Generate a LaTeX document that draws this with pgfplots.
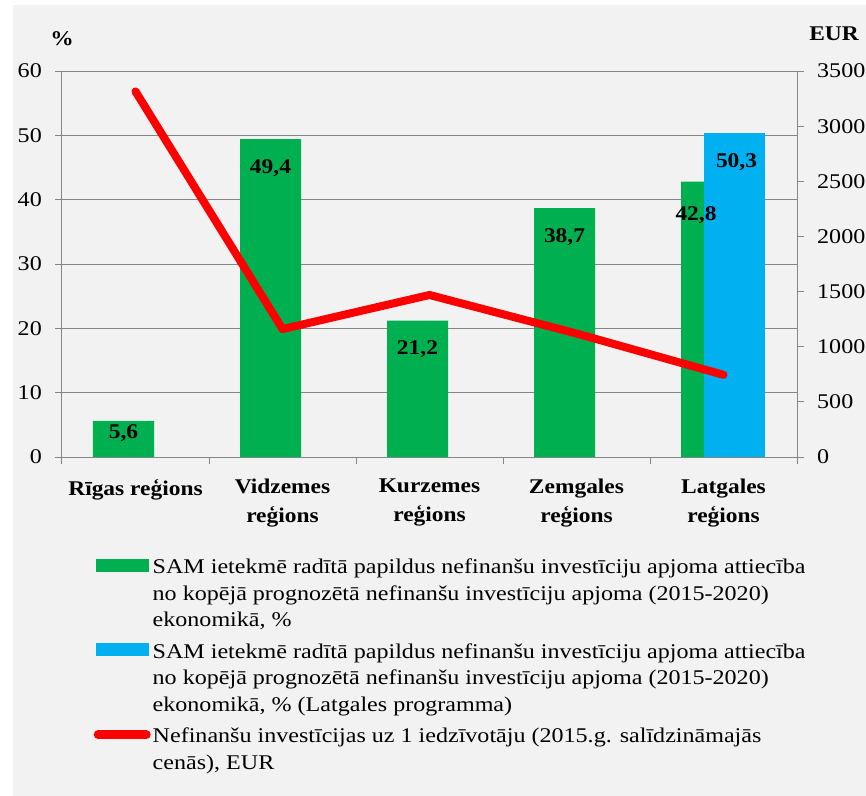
\documentclass[border=0pt]{standalone}
\usepackage{fontspec}
\setmainfont{Liberation Serif}[FakeStretch=1.15, BoldFeatures={FakeStretch=1.12}]
\usepackage{pgfplots}
\pgfplotsset{compat=1.18}

\definecolor{barG}{HTML}{00B050}
\definecolor{barB}{HTML}{00B0F0}
\definecolor{lineR}{HTML}{FF0000}
\definecolor{axgray}{HTML}{868686}
\definecolor{bggray}{HTML}{F2F2F2}

\newcommand{\fs}{\fontsize{21}{26.5}\selectfont}

\pgfplotsset{
  common/.style={
    scale only axis, width=735bp, height=386bp,
    xmin=-0.5, xmax=4.5,
    tick align=outside, major tick length=7bp,
    tick style={axgray, line width=1bp},
    axis line style={axgray, line width=1bp},
    /pgf/number format/assume math mode=true,
    /pgf/number format/1000 sep={},
    tick label style={font=\fs, text=black},
  },
  % bar value labels, drawn from the same numbers
  barlabel/.style={draw=none, mark=none, nodes near coords={\pgfmathprintnumber[use comma,fixed,fixed zerofill,precision=1]{\pgfplotspointmeta}},
    point meta=y,
    every node near coord/.append style={font=\fs\bfseries, text=black, anchor=north, inner sep=0pt, #1}},
}

\begin{document}
\begin{tikzpicture}
\fill[white] (-62bp,-339bp) rectangle (804bp,457bp);
\fill[bggray] (-49bp,-339bp) rectangle (804bp,452bp);

\begin{axis}[
  common,
  ymin=0, ymax=60, ytick={0,10,...,60},
  xtick={-0.5,0.5,...,4.5},
  x tick label as interval,
  xticklabels={{Rīgas reģions},{Vidzemes\\reģions},{Kurzemes\\reģions},{Zemgales\\reģions},{Latgales\\reģions}},
  xticklabel style={font=\fontsize{21}{29}\selectfont\bfseries, align=center, inner sep=0pt, yshift=-15bp},
  xtick pos=bottom, ytick pos=left,
  yticklabel style={anchor=east, inner sep=0pt, xshift=-13bp},
  ymajorgrids, grid style={axgray, line width=1bp},
  ylabel={\%},
  ylabel style={rotate=-90, at={(axis description cs:0,1)}, anchor=base, inner sep=0pt, yshift=26bp, font=\fs\bfseries},
]
\addplot[ybar, bar width=61bp, bar shift=-12bp, fill=barG, draw=none]
  coordinates {(0,5.6) (1,49.4) (2,21.2) (3,38.7) (4,42.8)};
\addplot[ybar, bar width=61bp, bar shift=11bp, fill=barB, draw=none]
  coordinates {(4,50.3)};
% labels
\addplot[barlabel={xshift=-12bp, yshift=-3bp}] coordinates {(0,5.6)};
\addplot[barlabel={xshift=-12bp, yshift=-20bp}] coordinates {(1,49.4) (2,21.2) (3,38.7)};
\addplot[barlabel={xshift=-27.5bp, yshift=-25bp}] coordinates {(4,42.8)};
\addplot[barlabel={xshift=13bp, yshift=-20bp}] coordinates {(4,50.3)};
\end{axis}

\begin{axis}[
  common,
  ymin=0, ymax=3500, ytick={0,500,...,3500},
  axis x line=none, axis y line*=right,
  yticklabel style={anchor=west, inner sep=0pt, xshift=13bp},
  ylabel={EUR},
  ylabel style={rotate=-90, at={(axis description cs:1,1)}, anchor=base, inner sep=0pt, xshift=37bp, yshift=31bp, font=\fs\bfseries},
  legend style={draw=none, fill=none, inner sep=0pt, font=\fs,
    at={(axis description cs:0.0429,-0.259)}, anchor=north west,
    cells={align=left}, row sep=11.5bp,
    /tikz/every even column/.append style={column sep=3bp}},
  legend cell align=left,
]
\addlegendimage{legend image code/.code={\fill[barG] (0bp,22.5bp) rectangle (52bp,34.5bp);}}
\addlegendentry{SAM ietekmē radītā papildus nefinanšu investīciju apjoma attiecība\\no kopējā prognozētā nefinanšu investīciju apjoma (2015-2020)\\ekonomikā, \%}
\addlegendimage{legend image code/.code={\fill[barB] (0bp,22.5bp) rectangle (52bp,34.5bp);}}
\addlegendentry{SAM ietekmē radītā papildus nefinanšu investīciju apjoma attiecība\\no kopējā prognozētā nefinanšu investīciju apjoma (2015-2020)\\ekonomikā, \% (Latgales programma)}
\addplot[lineR, line width=8bp, line cap=round, line join=round,
  legend image code/.code={\draw[lineR, line width=9bp, line cap=round] (2bp,14.75bp) -- (50bp,14.75bp);}]
  coordinates {(0,3315) (1,1160) (2,1469) (3,1120) (4,745)};
\addlegendentry{Nefinanšu investīcijas uz 1 iedzīvotāju (2015.g. salīdzināmajās\\cenās), EUR}
\end{axis}

\pgfresetboundingbox
\path[use as bounding box] (-62bp,-339bp) rectangle (804bp,457bp);
\end{tikzpicture}
\end{document}
